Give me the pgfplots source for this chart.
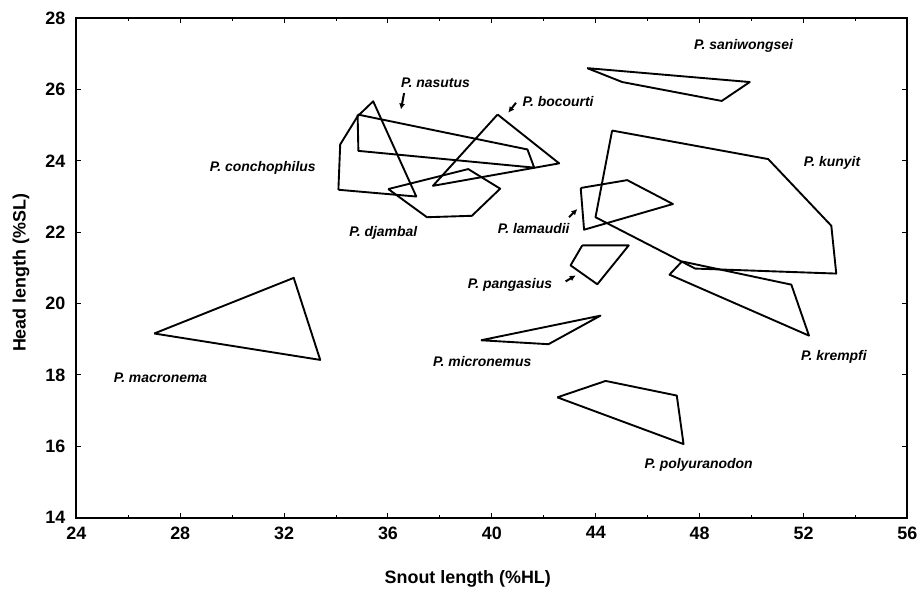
\documentclass[border=0pt]{standalone}
\usepackage{pgfplots}
\pgfplotsset{compat=1.18}
\usetikzlibrary{arrows.meta}
\usepackage{fontspec}
\setmainfont{Liberation Sans}
\newcommand{\lab}{\bfseries\itshape\fontsize{7}{8}\selectfont}
\pgfplotsset{poly/.style={black, solid, line width=0.95pt, line join=round, mark=none}}
\begin{document}
\begin{tikzpicture}
\begin{axis}[
  scale only axis,
  width=417.5pt, height=250.85pt,
  xmin=24, xmax=56, ymin=14, ymax=28,
  xtick={24,28,...,56}, ytick={14,16,...,28},
  minor x tick num=1,
  tick align=inside,
  major tick length=2.5pt, minor tick length=1.5pt,
  tick style={black, line width=0.5pt},
  axis line style={line width=1pt},
  /pgf/number format/assume math mode=true,
  ticklabel style={font=\bfseries\fontsize{9}{10}\selectfont},
  xticklabel style={yshift=-1pt},
  yticklabel style={xshift=-2pt},
  xlabel={Snout length (\%HL)},
  ylabel={Head length (\%SL)},
  label style={font=\bfseries\fontsize{9}{10}\selectfont},
  xlabel style={at={(axis description cs:0.471,-0.122)}, anchor=center},
  ylabel style={at={(axis description cs:-0.0665,0.49)}, anchor=center},
  clip=false,
]
% P. macronema
\addplot[poly] coordinates {(27.00,19.16) (32.37,20.72) (33.39,18.42) (27.00,19.16)};
% P. conchophilus
\addplot[poly] coordinates {(34.09,23.19) (34.16,24.46) (34.83,25.25) (35.43,25.67) (37.09,23.00) (34.09,23.19)};
% P. nasutus
\addplot[poly] coordinates {(34.83,25.30) (41.37,24.32) (41.63,23.81) (34.86,24.28) (34.83,25.30)};
% P. bocourti
\addplot[poly] coordinates {(40.22,25.30) (42.59,23.93) (37.73,23.30) (40.22,25.30)};
% P. djambal
\addplot[poly] coordinates {(36.01,23.21) (39.09,23.77) (40.32,23.22) (39.23,22.46) (37.50,22.42) (36.01,23.21)};
% P. saniwongsei
\addplot[poly] coordinates {(43.67,26.60) (49.93,26.21) (48.85,25.68) (45.02,26.21) (43.67,26.60)};
% P. kunyit
\addplot[poly] coordinates {(44.63,24.85) (50.64,24.05) (53.07,22.18) (53.26,20.84) (47.83,20.98) (43.99,22.42) (44.63,24.85)};
% P. krempfi
\addplot[poly] coordinates {(47.32,21.18) (51.53,20.53) (52.21,19.10) (46.84,20.81) (47.32,21.18)};
% P. lamaudii
\addplot[poly] coordinates {(43.42,23.24) (45.21,23.46) (46.97,22.79) (43.55,22.07) (43.42,23.24)};
% P. pangasius
\addplot[poly] coordinates {(43.48,21.63) (45.27,21.63) (44.06,20.54) (43.03,21.07) (43.48,21.63)};
% P. micronemus
\addplot[poly] coordinates {(39.58,18.97) (44.18,19.66) (42.18,18.86) (39.58,18.97)};
% P. polyuranodon
\addplot[poly] coordinates {(42.52,17.37) (44.38,17.83) (47.12,17.42) (47.38,16.06) (42.52,17.37)};

\node[font=\lab] at (axis cs:49.69,27.21) {P. saniwongsei};
\node[font=\lab] at (axis cs:37.83,26.20) {P. nasutus};
\node[font=\lab] at (axis cs:42.55,25.67) {P. bocourti};
\node[font=\lab] at (axis cs:31.18,23.81) {P. conchophilus};
\node[font=\lab] at (axis cs:53.10,23.95) {P. kunyit};
\node[font=\lab] at (axis cs:35.82,21.98) {P. djambal};
\node[font=\lab] at (axis cs:41.61,22.09) {P. lamaudii};
\node[font=\lab] at (axis cs:40.70,20.51) {P. pangasius};
\node[font=\lab] at (axis cs:27.24,17.91) {P. macronema};
\node[font=\lab] at (axis cs:39.63,18.37) {P. micronemus};
\node[font=\lab] at (axis cs:53.17,18.51) {P. krempfi};
\node[font=\lab] at (axis cs:47.96,15.49) {P. polyuranodon};

\draw[line width=1pt, -{Latex[length=3pt,width=3pt]}] (axis cs:36.62,25.90) -- (axis cs:36.50,25.44);
\draw[line width=1pt, -{Latex[length=3pt,width=3pt]}] (axis cs:40.93,25.63) -- (axis cs:40.63,25.35);
\draw[line width=1pt, -{Latex[length=3pt,width=3pt]}] (axis cs:42.97,22.42) -- (axis cs:43.29,22.65);
\draw[line width=1pt, -{Latex[length=3pt,width=3pt]}] (axis cs:42.84,20.62) -- (axis cs:43.23,20.79);
\end{axis}
\path ([shift={(-38.35pt,-34pt)}]current axis.south west) rectangle ([shift={(6.15pt,9.15pt)}]current axis.north east);
\end{tikzpicture}
\end{document}
